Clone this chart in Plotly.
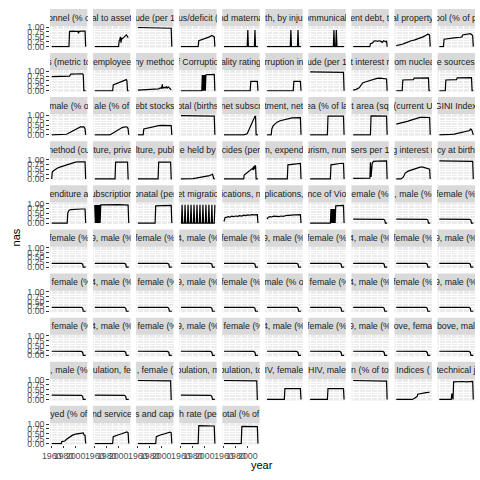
import plotly.graph_objects as go

# ---------------- data ----------------
x_ticks = [1960, 1980, 2000]
x_minor = [1970, 1990, 2010]
y_ticks = [0, 0.25, 0.5, 0.75, 1.0]
y_ticktext = ["0.00", "0.25", "0.50", "0.75", "1.00"]
y_minor = [0.125, 0.375, 0.625, 0.875]

titles_r1 = ["onnel (% o", "al to asset", "ude (per 1", "us/deficit (", "nd materna",
             "th, by inju", "ommunicab", "ent debt, t", "al property", "ool (% of p"]
titles_r2 = ["s (metric to", "employee", "ny method", "f Corruptio", "ality rating",
             "rruption in", "ude (per 1", "t interest r", "rom nuclea", "e sources"]
titles_r3 = ["male (% o", "ale (% of", "ebt stocks", "otal (births", "net subscr",
             "tment, net", "ea (% of la", "t area (sq", "(current U", "GINI Index"]
titles_r4 = ["nethod (cu", "lture, priva", "lture, publ", "e held by", "cides (per",
             "m, expendi", "urism, num", "sers per 1", "g interest r", "cy at birth"]
titles_r5 = ["enditure a", "ubscription", "onatal (per", "et migratio", "ications, n",
             "plications,", "nce of Vio", "emale (%", ", male (%", "female (%"]
titles_r6 = ["female (%", "9, male (%", "female (%", "4, male (%", "female (%",
             "9, male (%", "female (%", "4, male (%", "female (%", "9, male (%"]
titles_r7 = [", female (%", "4, male (%", ", female (%", "9, male (%", "female (%",
             "male (% o", ", female (%", "4, male (%", "female (%", "9, male (%"]
titles_r8 = [", female (%", "4, male (%", ", female (%", "9, male (%", ", female (%",
             "4, male (%", "female (%", "9, male (%", "ove, fema", "bove, mal"]
titles_r9 = [", male (%", "ulation, fe", ", female (", "pulation, m", "pulation, to",
             "IV, female", "HIV, male", "n (% of to", "Indices (", "technical j"]
titles_r10 = ["yed (% of", "nd service", "s and capi", "h rate (pe", "otal (% of"]

# each panel: list of [year, nas] points
points_r1 = [
    [[1960, 0], [1989, 0], [1990, 0.78], [1993, 0.8], [1997, 0.79], [2000, 0.78], [2004, 0.78],
     [2005, 0.68], [2006, 0.78], [2010, 0.79], [2015, 0.78], [2016, 0.79], [2017, 0]],
    [[1960, 0], [2000, 0], [2001, 0.3], [2002, 0.35], [2003, 0.5], [2004, 0.2], [2005, 0.45],
     [2006, 0.4], [2008, 0.45], [2010, 0.5], [2012, 0.58], [2013, 0.6], [2015, 0.52], [2016, 0.45]],
    [[1960, 0.98], [1980, 0.97], [2000, 0.96], [2010, 0.95], [2016, 0.94], [2017, 0]],
    [[1960, 0], [1989, 0], [1990, 0.3], [1993, 0.33], [1996, 0.35], [2000, 0.4], [2004, 0.47],
     [2008, 0.5], [2012, 0.57], [2014, 0.53], [2016, 0.5], [2017, 0]],
    [[1960, 0], [1999, 0], [2000, 0.85], [2001, 0], [2011, 0], [2012, 0.85], [2013, 0], [2017, 0]],
    [[1960, 0], [1999, 0], [2000, 0.85], [2001, 0], [2011, 0], [2012, 0.85], [2013, 0], [2017, 0]],
    [[1960, 0], [1999, 0], [2000, 0.85], [2001, 0], [2003, 0], [2004, 0.85], [2005, 0], [2017, 0]],
    [[1960, 0], [1988, 0], [1989, 0.15], [1992, 0.18], [1995, 0.28], [1998, 0.3], [2001, 0.27],
     [2003, 0.3], [2006, 0.28], [2009, 0.22], [2011, 0.3], [2013, 0.28], [2015, 0.25], [2016, 0.3], [2017, 0]],
    [[1960, 0.05], [1965, 0.08], [1970, 0.12], [1975, 0.18], [1980, 0.25], [1985, 0.3], [1990, 0.33],
     [1995, 0.38], [2000, 0.43], [2005, 0.5], [2010, 0.58], [2013, 0.64], [2015, 0.62], [2016, 0.58], [2017, 0]],
    [[1960, 0], [1967, 0], [1968, 0.38], [1975, 0.42], [1985, 0.45], [1995, 0.48], [1998, 0.5],
     [1999, 0.6], [2005, 0.62], [2012, 0.66], [2015, 0.6], [2016, 0.55], [2017, 0]],
]
points_r2 = [
    [[1960, 0.72], [1970, 0.73], [1980, 0.74], [1990, 0.75], [1992, 0.85], [2000, 0.86],
     [2005, 0.87], [2012, 0.87], [2013, 0.82], [2014, 0], [2017, 0]],
    [[1960, 0], [1990, 0], [1991, 0.3], [1995, 0.35], [2000, 0.42], [2005, 0.48], [2010, 0.53],
     [2013, 0.57], [2014, 0.5], [2015, 0], [2017, 0]],
    [[1960, 0.03], [1965, 0.04], [1970, 0.05], [1975, 0.06], [1980, 0.08], [1985, 0.1], [1990, 0.12],
     [1995, 0.1], [1998, 0.15], [2000, 0.13], [2001, 0.33], [2002, 0.12], [2004, 0.18], [2006, 0.14],
     [2008, 0.22], [2009, 0.12], [2011, 0.2], [2013, 0.15], [2014, 0.1], [2015, 0.12], [2016, 0.05]],
    [[1960, 0], [1995, 0], [1996, 0.8], [1997, 0], [1998, 0.8], [1999, 0], [2000, 0.8], [2001, 0],
     [2002, 0.82], [2005, 0.83], [2016, 0.84], [2017, 0]],
    [[1960, 0], [2004, 0], [2005, 0.48], [2016, 0.48], [2017, 0]],
    [[1960, 0], [2004, 0], [2005, 0.48], [2016, 0.48], [2017, 0]],
    [[1960, 0.97], [1980, 0.96], [2000, 0.95], [2016, 0.94], [2017, 0]],
    [[1960, 0.03], [1965, 0.07], [1970, 0.15], [1973, 0.3], [1976, 0.4], [1980, 0.45], [1985, 0.5],
     [1990, 0.55], [1995, 0.6], [2000, 0.63], [2005, 0.65], [2010, 0.62], [2014, 0.6], [2016, 0.6], [2017, 0]],
    [[1960, 0], [1970, 0], [1971, 0.55], [1980, 0.56], [1989, 0.57], [1990, 0.65], [2000, 0.66],
     [2010, 0.67], [2014, 0.66], [2015, 0], [2017, 0]],
    [[1960, 0], [1970, 0], [1971, 0.55], [1980, 0.56], [1989, 0.57], [1990, 0.66], [2000, 0.67],
     [2010, 0.68], [2014, 0.67], [2015, 0], [2017, 0]],
]
points_r3 = [
    [[1960, 0], [1983, 0], [1985, 0.03], [1988, 0.08], [1991, 0.13], [1994, 0.2], [1997, 0.25],
     [2000, 0.3], [2003, 0.35], [2006, 0.38], [2009, 0.42], [2011, 0.4], [2013, 0.42], [2015, 0.38],
     [2016, 0.3], [2017, 0]],
    [[1960, 0], [1985, 0], [1988, 0.04], [1991, 0.1], [1994, 0.17], [1997, 0.23], [2000, 0.28],
     [2003, 0.33], [2006, 0.37], [2009, 0.4], [2011, 0.42], [2013, 0.41], [2015, 0.38], [2016, 0.3], [2017, 0]],
    [[1960, 0], [1969, 0], [1970, 0.3], [1975, 0.34], [1980, 0.38], [1985, 0.42], [1990, 0.45],
     [1995, 0.47], [2000, 0.48], [2005, 0.48], [2016, 0.47], [2017, 0]],
    [[1960, 0.98], [1980, 0.97], [2000, 0.97], [2016, 0.96], [2017, 0]],
    [[1960, 0], [1993, 0], [1999, 0.05], [2004, 0.4], [2007, 0.67], [2010, 0.88], [2012, 0.95],
     [2013, 0.95], [2014, 0], [2017, 0]],
    [[1960, 0], [1967, 0], [1968, 0.3], [1970, 0.45], [1973, 0.55], [1977, 0.65], [1982, 0.72],
     [1987, 0.76], [1992, 0.8], [1997, 0.84], [2002, 0.87], [2016, 0.88], [2017, 0]],
    [[1960, 0], [1989, 0], [1990, 0.96], [2000, 0.96], [2010, 0.97], [2016, 0.96], [2017, 0]],
    [[1960, 0], [1989, 0], [1990, 0.97], [2000, 0.97], [2010, 0.97], [2016, 0.96], [2017, 0]],
    [[1960, 0.55], [1965, 0.58], [1970, 0.62], [1975, 0.66], [1980, 0.7], [1985, 0.75], [1990, 0.8],
     [1995, 0.85], [2000, 0.89], [2005, 0.9], [2010, 0.9], [2016, 0.89], [2017, 0]],
    [[1960, 0], [1977, 0], [1979, 0.02], [1985, 0.04], [1990, 0.07], [1995, 0.1], [2000, 0.12],
     [2003, 0.15], [2006, 0.18], [2009, 0.2], [2011, 0.22], [2012, 0.3], [2014, 0.28], [2015, 0.2],
     [2016, 0.03], [2017, 0]],
]
points_r4 = [
    [[1960, 0], [1961, 0.35], [1963, 0.42], [1966, 0.5], [1970, 0.56], [1975, 0.62], [1980, 0.67],
     [1985, 0.71], [1990, 0.76], [1995, 0.82], [2000, 0.86], [2005, 0.88], [2016, 0.87], [2017, 0]],
    [[1960, 0], [1994, 0], [1995, 0.86], [2015, 0.86], [2016, 0], [2017, 0]],
    [[1960, 0], [1994, 0], [1995, 0.86], [2015, 0.86], [2016, 0], [2017, 0]],
    [[1960, 0], [1978, 0], [1980, 0.02], [1985, 0.04], [1990, 0.06], [1995, 0.08], [2000, 0.1],
     [2005, 0.13], [2008, 0.17], [2010, 0.2], [2012, 0.25], [2013, 0.24], [2014, 0.15], [2015, 0.02], [2017, 0]],
    [[1960, 0], [1993, 0], [1994, 0.2], [2000, 0.35], [2005, 0.48], [2008, 0.55], [2009, 0.45],
     [2010, 0.65], [2011, 0.5], [2012, 0.7], [2013, 0.65], [2014, 0], [2017, 0]],
    [[1960, 0], [1994, 0], [1995, 0.72], [2000, 0.74], [2005, 0.76], [2010, 0.78], [2016, 0.8], [2017, 0]],
    [[1960, 0], [1994, 0], [1995, 0.72], [2000, 0.75], [2005, 0.77], [2010, 0.79], [2016, 0.8], [2017, 0]],
    [[1960, 0.03], [1975, 0.03], [1988, 0.04], [1989, 0.85], [1990, 0.1], [1992, 0.8], [1994, 0.9],
     [2000, 0.91], [2016, 0.92], [2017, 0]],
    [[1960, 0], [1968, 0], [1972, 0.1], [1975, 0.3], [1980, 0.4], [1985, 0.45], [1990, 0.5],
     [1995, 0.55], [2000, 0.6], [2005, 0.6], [2010, 0.55], [2014, 0.53], [2016, 0.5], [2017, 0]],
    [[1960, 0.92], [1980, 0.92], [2000, 0.91], [2016, 0.9], [2017, 0]],
]
points_r5 = [
    [[1960, 0], [1986, 0], [1987, 0.52], [1989, 0.65], [1992, 0.69], [1995, 0.7], [2000, 0.71],
     [2010, 0.72], [2016, 0.72], [2017, 0]],
    [[1960, 0.92], [1961, 0], [1962, 0.92], [1963, 0], [1964, 0.92], [1965, 0], [1966, 0.92],
     [1967, 0], [1968, 0.92], [1969, 0], [1970, 0.93], [1980, 0.94], [1990, 0.94], [2000, 0.94],
     [2010, 0.93], [2016, 0.92], [2017, 0]],
    [[1960, 0], [1989, 0], [1990, 0.88], [2000, 0.89], [2016, 0.9], [2017, 0]],
    [[1960, 0], [1961, 0], [1962, 0.93], [1963, 0], [1966, 0], [1967, 0.93], [1968, 0], [1971, 0],
     [1972, 0.93], [1973, 0], [1976, 0], [1977, 0.93], [1978, 0], [1981, 0], [1982, 0.93], [1983, 0],
     [1986, 0], [1987, 0.93], [1988, 0], [1991, 0], [1992, 0.93], [1993, 0], [1996, 0], [1997, 0.93],
     [1998, 0], [2001, 0], [2002, 0.93], [2003, 0], [2006, 0], [2007, 0.93], [2008, 0], [2011, 0],
     [2012, 0.93], [2013, 0], [2016, 0], [2017, 0.93]],
    [[1960, 0.08], [1961, 0.2], [1962, 0.28], [1965, 0.3], [1968, 0.33], [1970, 0.3], [1973, 0.35],
     [1976, 0.33], [1980, 0.36], [1983, 0.34], [1986, 0.38], [1990, 0.36], [1993, 0.4], [1996, 0.38],
     [2000, 0.42], [2003, 0.4], [2006, 0.43], [2010, 0.42], [2013, 0.44], [2016, 0.43], [2017, 0]],
    [[1960, 0.2], [1962, 0.3], [1965, 0.33], [1968, 0.31], [1971, 0.35], [1974, 0.33], [1977, 0.34],
     [1980, 0.33], [1984, 0.36], [1987, 0.34], [1990, 0.38], [1994, 0.4], [1997, 0.39], [2000, 0.41],
     [2005, 0.42], [2010, 0.42], [2016, 0.43], [2017, 0]],
    [[1960, 0], [1994, 0], [1995, 0.72], [1996, 0], [1997, 0.72], [1998, 0], [1999, 0.72], [2000, 0],
     [2001, 0.72], [2002, 0], [2003, 0.88], [2010, 0.9], [2016, 0.9], [2017, 0]],
    [[1960, 0.2], [1980, 0.2], [2000, 0.2], [2011, 0.19], [2013, 0.15], [2014, 0], [2017, 0]],
    [[1960, 0.2], [1980, 0.2], [2000, 0.2], [2011, 0.19], [2013, 0.15], [2014, 0], [2017, 0]],
    [[1960, 0.2], [1980, 0.2], [2000, 0.2], [2011, 0.19], [2013, 0.15], [2014, 0], [2017, 0]],
]
points_r6 = [
    [[1960, 0.19], [1980, 0.19], [2000, 0.19], [2010, 0.19], [2012, 0.15], [2013, 0], [2017, 0]],
    [[1960, 0.19], [1980, 0.19], [2000, 0.19], [2010, 0.19], [2012, 0.15], [2013, 0], [2017, 0]],
    [[1960, 0.19], [1980, 0.19], [2000, 0.19], [2010, 0.19], [2012, 0.15], [2013, 0], [2017, 0]],
    [[1960, 0.19], [1980, 0.19], [2000, 0.19], [2010, 0.19], [2012, 0.15], [2013, 0], [2017, 0]],
    [[1960, 0.19], [1980, 0.19], [2000, 0.19], [2010, 0.19], [2012, 0.15], [2013, 0], [2017, 0]],
    [[1960, 0.19], [1980, 0.19], [2000, 0.19], [2010, 0.19], [2012, 0.15], [2013, 0], [2017, 0]],
    [[1960, 0.19], [1980, 0.19], [2000, 0.19], [2010, 0.19], [2012, 0.15], [2013, 0], [2017, 0]],
    [[1960, 0.19], [1980, 0.19], [2000, 0.19], [2010, 0.19], [2012, 0.15], [2013, 0], [2017, 0]],
    [[1960, 0.19], [1980, 0.19], [2000, 0.19], [2010, 0.19], [2012, 0.15], [2013, 0], [2017, 0]],
    [[1960, 0.19], [1980, 0.19], [2000, 0.19], [2010, 0.19], [2012, 0.15], [2013, 0], [2017, 0]],
]
points_r7 = [
    [[1960, 0.2], [1980, 0.2], [2000, 0.2], [2010, 0.2], [2012, 0.15], [2013, 0], [2017, 0]],
    [[1960, 0.2], [1980, 0.2], [2000, 0.2], [2010, 0.2], [2012, 0.15], [2013, 0], [2017, 0]],
    [[1960, 0.2], [1980, 0.2], [2000, 0.2], [2010, 0.2], [2012, 0.15], [2013, 0], [2017, 0]],
    [[1960, 0.2], [1980, 0.2], [2000, 0.2], [2010, 0.2], [2012, 0.15], [2013, 0], [2017, 0]],
    [[1960, 0.2], [1980, 0.2], [2000, 0.2], [2010, 0.2], [2012, 0.15], [2013, 0], [2017, 0]],
    [[1960, 0.2], [1980, 0.2], [2000, 0.2], [2010, 0.2], [2012, 0.15], [2013, 0], [2017, 0]],
    [[1960, 0.2], [1980, 0.2], [2000, 0.2], [2010, 0.2], [2012, 0.15], [2013, 0], [2017, 0]],
    [[1960, 0.2], [1980, 0.2], [2000, 0.2], [2010, 0.2], [2012, 0.15], [2013, 0], [2017, 0]],
    [[1960, 0.2], [1980, 0.2], [2000, 0.2], [2010, 0.2], [2012, 0.15], [2013, 0], [2017, 0]],
    [[1960, 0.2], [1980, 0.2], [2000, 0.2], [2010, 0.2], [2012, 0.15], [2013, 0], [2017, 0]],
]
points_r8 = [
    [[1960, 0.21], [1980, 0.21], [2000, 0.2], [2010, 0.2], [2012, 0.15], [2013, 0], [2017, 0]],
    [[1960, 0.21], [1980, 0.21], [2000, 0.2], [2010, 0.2], [2012, 0.15], [2013, 0], [2017, 0]],
    [[1960, 0.21], [1980, 0.21], [2000, 0.2], [2010, 0.2], [2012, 0.15], [2013, 0], [2017, 0]],
    [[1960, 0.21], [1980, 0.21], [2000, 0.2], [2010, 0.2], [2012, 0.15], [2013, 0], [2017, 0]],
    [[1960, 0.21], [1980, 0.21], [2000, 0.2], [2010, 0.2], [2012, 0.15], [2013, 0], [2017, 0]],
    [[1960, 0.21], [1980, 0.21], [2000, 0.2], [2010, 0.2], [2012, 0.15], [2013, 0], [2017, 0]],
    [[1960, 0.21], [1980, 0.21], [2000, 0.2], [2010, 0.2], [2012, 0.15], [2013, 0], [2017, 0]],
    [[1960, 0.21], [1980, 0.21], [2000, 0.2], [2010, 0.2], [2012, 0.15], [2013, 0], [2017, 0]],
    [[1960, 0.21], [1980, 0.21], [2000, 0.2], [2010, 0.2], [2012, 0.15], [2013, 0], [2017, 0]],
    [[1960, 0.21], [1980, 0.21], [2000, 0.2], [2010, 0.2], [2012, 0.15], [2013, 0], [2017, 0]],
]
points_r9 = [
    [[1960, 0.22], [1980, 0.22], [2000, 0.21], [2010, 0.21], [2012, 0.15], [2013, 0], [2017, 0]],
    [[1960, 0.22], [1980, 0.22], [2000, 0.21], [2010, 0.21], [2012, 0.15], [2013, 0], [2017, 0]],
    [[1960, 0.97], [1980, 0.97], [2000, 0.96], [2015, 0.95], [2016, 0], [2017, 0]],
    [[1960, 0.22], [1980, 0.22], [2000, 0.21], [2010, 0.21], [2012, 0.15], [2013, 0], [2017, 0]],
    [[1960, 0.97], [1980, 0.97], [2000, 0.96], [2015, 0.95], [2016, 0], [2017, 0]],
    [[1960, 0], [1989, 0], [1990, 0.55], [2016, 0.55], [2017, 0]],
    [[1960, 0], [1989, 0], [1990, 0.55], [2016, 0.55], [2017, 0]],
    [[1960, 0.97], [1990, 0.96], [2010, 0.95], [2016, 0.94], [2017, 0]],
    [[1960, 0], [1987, 0], [1990, 0.05], [1993, 0.12], [1995, 0.15], [1996, 0.27], [2000, 0.3],
     [2005, 0.33], [2010, 0.35], [2016, 0.37]],
    [[1960, 0], [1980, 0], [1981, 0.3], [1982, 0], [1983, 0], [1984, 0.9], [1990, 0.92], [2000, 0.92],
     [2005, 0.9], [2010, 0.92], [2016, 0.92], [2017, 0]],
]
points_r10 = [
    [[1960, 0], [1976, 0], [1977, 0.1], [1982, 0.13], [1985, 0.22], [1990, 0.35], [1995, 0.43],
     [2000, 0.48], [2005, 0.5], [2010, 0.53], [2013, 0.55], [2014, 0.45], [2016, 0.42], [2017, 0]],
    [[1960, 0], [1990, 0], [1991, 0.35], [1993, 0.38], [1996, 0.42], [2000, 0.45], [2005, 0.5],
     [2010, 0.55], [2014, 0.6], [2016, 0.55], [2017, 0]],
    [[1960, 0], [1990, 0], [1991, 0.35], [1993, 0.38], [1996, 0.42], [2000, 0.46], [2005, 0.5],
     [2010, 0.55], [2014, 0.58], [2016, 0.55], [2017, 0]],
    [[1960, 0], [1989, 0], [1990, 0.92], [2000, 0.92], [2016, 0.9], [2017, 0]],
    [[1960, 0], [1989, 0], [1990, 0.88], [2000, 0.88], [2016, 0.87], [2017, 0]],
]

titles = (titles_r1 + titles_r2 + titles_r3 + titles_r4 + titles_r5 + titles_r6 +
          titles_r7 + titles_r8 + titles_r9 + titles_r10)
points = (points_r1 + points_r2 + points_r3 + points_r4 + points_r5 + points_r6 +
          points_r7 + points_r8 + points_r9 + points_r10)

# ---------------- layout (pixels) ----------------
W = H = 480
NCOL = 10
PX0, PW, PSTEP = 42.7, 38.0, 43.8
ST0, SH, PH, RSTEP = 5.0, 17.5, 21.85, 44.85
x_range = [1957.15, 2019.85]
y_range = [-0.05, 1.05]
FONT = "Liberation Sans, Arial, sans-serif"

traces = []
layout = dict(
    width=W, height=H, margin=dict(l=0, r=0, t=0, b=0),
    paper_bgcolor="white", plot_bgcolor="#EBEBEB", showlegend=False,
    font=dict(family=FONT),
)
shapes = []
annotations = []
n = len(titles)
for i in range(n):
    r, c = divmod(i, NCOL)
    k = i + 1
    sx = "" if k == 1 else str(k)
    x0 = PX0 + c * PSTEP
    x1 = x0 + PW
    st = ST0 + r * RSTEP
    pt = st + SH
    pb = pt + PH
    show_x = i >= n - 5
    show_y = c == 0
    layout["xaxis" + sx] = dict(
        domain=[x0 / W, x1 / W], range=x_range, anchor="y" + sx,
        tickmode="array", tickvals=x_ticks, ticktext=[str(v) for v in x_ticks],
        showticklabels=show_x, ticks="outside" if show_x else "", ticklen=2.75,
        tickwidth=0.8, tickcolor="#333333", tickangle=0,
        tickfont=dict(size=8.8, color="#4D4D4D", family=FONT),
        showgrid=True, gridcolor="white", gridwidth=1.1,
        minor=dict(tickvals=x_minor, showgrid=True, gridcolor="white", gridwidth=0.55, ticks=""),
        zeroline=False, showline=False, fixedrange=True,
    )
    layout["yaxis" + sx] = dict(
        domain=[1 - pb / H, 1 - pt / H], range=y_range, anchor="x" + sx,
        tickmode="array", tickvals=y_ticks, ticktext=y_ticktext,
        showticklabels=show_y, ticks="outside" if show_y else "", ticklen=2.75,
        tickwidth=0.8, tickcolor="#333333",
        tickfont=dict(size=8.8, color="#4D4D4D", family=FONT),
        showgrid=True, gridcolor="white", gridwidth=1.1,
        minor=dict(tickvals=y_minor, showgrid=True, gridcolor="white", gridwidth=0.55, ticks=""),
        zeroline=False, showline=False, fixedrange=True,
    )
    xs = [p[0] for p in points[i]]
    ys = [p[1] for p in points[i]]
    traces.append(go.Scatter(x=xs, y=ys, mode="lines", xaxis="x" + sx, yaxis="y" + sx,
                             line=dict(color="black", width=1.2), hoverinfo="skip"))
    shapes.append(dict(type="rect", xref="paper", yref="paper",
                       x0=x0 / W, x1=x1 / W, y0=1 - pt / H, y1=1 - st / H,
                       fillcolor="#D9D9D9", line=dict(width=0), layer="below"))
    annotations.append(dict(text=titles[i], xref="paper", yref="paper",
                            x=(x0 + x1) / 2 / W, y=1 - (st + SH / 2) / H,
                            xanchor="center", yanchor="middle", showarrow=False,
                            width=PW, height=SH, borderpad=0, align="center",
                            font=dict(size=8.8, color="#1A1A1A", family=FONT)))

annotations.append(dict(text="year", xref="paper", yref="paper", x=258.5 / W, y=1 - 469 / H,
                        xanchor="center", yanchor="middle", showarrow=False,
                        font=dict(size=11, color="black", family=FONT)))
annotations.append(dict(text="nas", xref="paper", yref="paper", x=8.5 / W, y=1 - 237 / H,
                        xanchor="center", yanchor="middle", showarrow=False, textangle=-90,
                        font=dict(size=11, color="black", family=FONT)))
layout["shapes"] = shapes
layout["annotations"] = annotations

fig = go.Figure(data=traces, layout=layout)
fig.write_html("out.html")
